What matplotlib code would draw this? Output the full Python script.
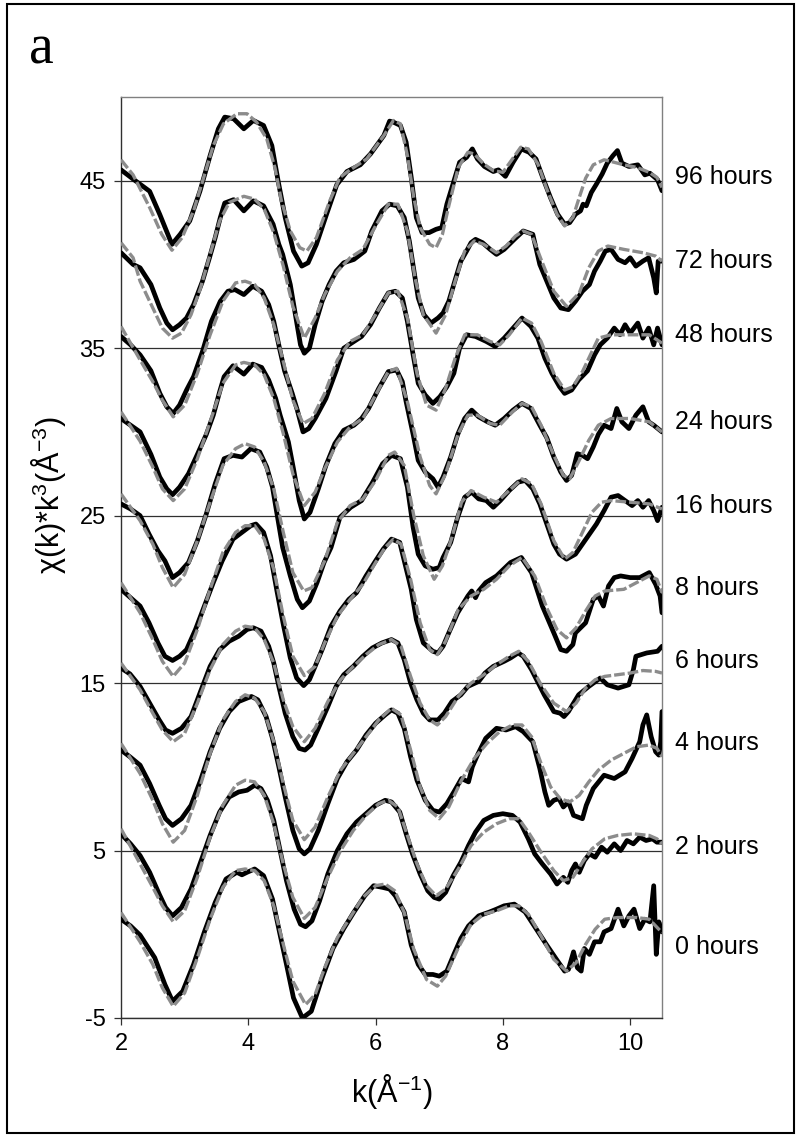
import numpy as np
import matplotlib
matplotlib.use("Agg")
import matplotlib.pyplot as plt
from matplotlib.patches import Rectangle

plt.rcParams['font.family'] = ['Liberation Sans', 'DejaVu Sans']
plt.rcParams['mathtext.default'] = 'regular'

# ---------------- data (k, chi*k^3 with vertical offsets as plotted) ----------------
labels = ["96 hours", "72 hours", "48 hours", "24 hours", "16 hours",
          "8 hours", "6 hours", "4 hours", "2 hours", "0 hours"]
label_y = [45.2, 40.2, 35.8, 30.6, 25.6, 20.7, 16.3, 11.4, 5.2, -0.75]

d96 = [(2.00, 45.65), (2.19, 45.1), (2.45, 44.37), (2.61, 42.98), (2.80, 41.2), (2.93, 41.8), (3.08, 42.6),
       (3.24, 44.37), (3.40, 46.5), (3.53, 48.1), (3.63, 48.8), (3.77, 48.7), (3.93, 48.1), (4.08, 48.6),
       (4.24, 48.3), (4.37, 47.1), (4.47, 44.96), (4.58, 42.8), (4.71, 40.8), (4.84, 39.9), (4.94, 40.1),
       (5.07, 41.2), (5.23, 43.0), (5.39, 44.76), (5.55, 45.55), (5.76, 45.95), (5.92, 46.6), (6.13, 47.7),
       (6.22, 48.56), (6.28, 48.5), (6.39, 48.3), (6.48, 47.3), (6.56, 45.2), (6.64, 42.8), (6.73, 41.9),
       (6.84, 41.9), (6.95, 42.1), (7.04, 42.2), (7.12, 43.6), (7.20, 44.6), (7.32, 46.1), (7.43, 46.4),
       (7.52, 46.9), (7.60, 46.3), (7.71, 45.85), (7.85, 45.55), (7.93, 45.65), (8.04, 45.26), (8.16, 46.1),
       (8.29, 46.9), (8.41, 46.7), (8.52, 46.3), (8.63, 45.15), (8.75, 43.97), (8.86, 43.0), (8.97, 42.4),
       (9.05, 42.5), (9.14, 43.0), (9.22, 43.2), (9.26, 43.6), (9.31, 43.5), (9.39, 44.3), (9.47, 44.8),
       (9.56, 45.4), (9.64, 46.05), (9.73, 46.5), (9.80, 46.8), (9.87, 46.05), (9.98, 45.85), (10.12, 45.95),
       (10.23, 45.35), (10.31, 45.45), (10.43, 45.06), (10.50, 44.4)]
f96 = [(2.00, 46.25), (2.19, 45.35), (2.45, 43.4), (2.64, 41.8), (2.80, 40.85), (2.96, 41.6), (3.14, 43.2),
       (3.30, 45.2), (3.45, 47.1), (3.61, 48.4), (3.82, 49.0), (3.98, 49.0), (4.13, 48.5), (4.29, 47.5),
       (4.42, 45.75), (4.52, 43.8), (4.66, 42.0), (4.81, 41.0), (4.92, 40.8), (5.07, 41.6), (5.28, 43.8),
       (5.44, 45.2), (5.60, 45.65), (5.86, 46.3), (6.13, 47.7), (6.28, 48.6), (6.39, 48.4), (6.50, 46.5),
       (6.60, 44.0), (6.70, 42.2), (6.85, 41.2), (6.95, 41.0), (7.05, 41.8), (7.15, 43.5), (7.30, 45.8),
       (7.45, 46.7), (7.55, 46.6), (7.70, 46.0), (7.85, 45.6), (8.00, 45.5), (8.15, 46.3), (8.28, 47.0),
       (8.40, 46.9), (8.55, 46.0), (8.70, 44.4), (8.85, 43.0), (8.97, 42.3), (9.10, 42.8), (9.20, 44.0),
       (9.30, 45.15), (9.42, 45.95), (9.59, 46.25), (9.75, 46.1), (9.90, 45.95), (10.10, 45.8), (10.30, 45.5),
       (10.42, 45.2), (10.50, 44.6)]

d72 = [(2.00, 40.7), (2.19, 40.0), (2.30, 39.8), (2.47, 38.8), (2.61, 37.4), (2.72, 36.5), (2.81, 36.1),
       (2.92, 36.4), (3.03, 36.8), (3.14, 37.6), (3.28, 39.0), (3.39, 40.4), (3.48, 41.6), (3.56, 42.8),
       (3.63, 43.67), (3.77, 43.87), (3.93, 43.2), (4.08, 43.8), (4.24, 43.5), (4.39, 42.4), (4.48, 41.2),
       (4.54, 40.6), (4.66, 38.8), (4.74, 37.0), (4.82, 35.2), (4.88, 34.7), (4.96, 35.0), (5.05, 36.4),
       (5.16, 37.8), (5.27, 38.8), (5.38, 39.6), (5.50, 40.1), (5.66, 40.3), (5.83, 40.8), (5.94, 42.0),
       (6.10, 43.2), (6.22, 43.6), (6.34, 43.5), (6.45, 42.8), (6.53, 41.4), (6.62, 39.2), (6.67, 38.0),
       (6.76, 37.0), (6.87, 36.5), (6.98, 36.8), (7.06, 37.1), (7.15, 37.8), (7.26, 39.2), (7.34, 40.2),
       (7.43, 40.8), (7.50, 41.3), (7.57, 41.5), (7.68, 41.3), (7.80, 40.9), (7.90, 40.6), (8.02, 40.9),
       (8.18, 41.5), (8.32, 42.0), (8.47, 41.8), (8.58, 40.0), (8.69, 39.0), (8.80, 38.0), (8.91, 37.4),
       (9.03, 37.3), (9.14, 37.8), (9.25, 38.4), (9.36, 38.8), (9.44, 39.6), (9.53, 40.2), (9.61, 40.8),
       (9.70, 40.9), (9.81, 40.3), (9.92, 40.1), (10.00, 40.4), (10.09, 39.9), (10.20, 40.2), (10.29, 40.4),
       (10.37, 39.2), (10.41, 38.3), (10.44, 40.2), (10.50, 40.2)]
f72 = [(2.00, 41.3), (2.19, 40.4), (2.30, 39.0), (2.50, 37.4), (2.65, 36.2), (2.81, 35.6), (2.95, 35.9),
       (3.10, 37.0), (3.25, 38.6), (3.40, 40.6), (3.55, 42.6), (3.70, 43.7), (3.93, 44.07), (4.10, 43.9),
       (4.25, 43.3), (4.40, 41.9), (4.55, 39.9), (4.70, 37.5), (4.88, 35.6), (5.05, 36.8), (5.20, 38.2),
       (5.40, 39.6), (5.60, 40.4), (5.80, 40.9), (6.00, 42.3), (6.20, 43.6), (6.35, 43.6), (6.50, 42.0),
       (6.62, 39.2), (6.75, 37.0), (6.95, 35.9), (7.10, 37.0), (7.25, 39.0), (7.40, 40.8), (7.55, 41.4),
       (7.70, 41.2), (7.90, 40.7), (8.05, 41.1), (8.20, 41.7), (8.32, 42.0), (8.45, 41.8), (8.60, 40.3),
       (8.80, 38.4), (9.00, 37.5), (9.20, 38.3), (9.35, 39.8), (9.50, 40.8), (9.65, 41.1), (9.90, 40.9),
       (10.20, 40.7), (10.40, 40.5), (10.50, 40.2)]

d48 = [(2.00, 35.7), (2.15, 35.2), (2.30, 34.6), (2.47, 33.65), (2.61, 32.3), (2.72, 31.5), (2.82, 31.1),
       (2.92, 31.6), (3.03, 32.5), (3.14, 33.3), (3.28, 34.8), (3.42, 36.6), (3.56, 37.8), (3.68, 38.4),
       (3.79, 38.5), (3.93, 38.2), (4.07, 38.7), (4.21, 38.4), (4.32, 37.6), (4.40, 36.6), (4.49, 35.0),
       (4.57, 33.65), (4.69, 32.3), (4.77, 31.3), (4.86, 30.0), (4.95, 30.2), (5.05, 30.8), (5.22, 32.0),
       (5.38, 33.65), (5.50, 35.0), (5.66, 35.4), (5.78, 35.7), (5.92, 36.4), (6.06, 37.4), (6.20, 38.3),
       (6.31, 38.4), (6.42, 38.0), (6.50, 36.6), (6.59, 34.6), (6.67, 32.9), (6.78, 32.2), (6.90, 31.7),
       (7.01, 32.1), (7.12, 32.7), (7.23, 33.5), (7.32, 35.0), (7.43, 35.8), (7.57, 35.7), (7.74, 35.4),
       (7.88, 35.1), (8.02, 35.6), (8.16, 36.2), (8.30, 36.8), (8.44, 36.3), (8.55, 35.6), (8.66, 34.4),
       (8.77, 33.5), (8.89, 32.7), (8.97, 32.3), (9.08, 32.5), (9.19, 33.1), (9.33, 33.65), (9.44, 34.6),
       (9.53, 35.2), (9.64, 35.6), (9.75, 36.2), (9.84, 35.8), (9.92, 36.4), (10.00, 35.9), (10.12, 36.5),
       (10.20, 35.6), (10.29, 36.2), (10.37, 35.2), (10.43, 36.2), (10.50, 35.2)]
f48 = [(2.00, 36.3), (2.30, 34.3), (2.50, 33.0), (2.65, 31.9), (2.82, 30.9), (3.00, 31.6), (3.20, 33.5),
       (3.40, 35.8), (3.60, 37.8), (3.80, 38.9), (3.95, 39.0), (4.10, 38.8), (4.25, 38.0), (4.40, 36.4),
       (4.55, 34.2), (4.70, 31.9), (4.86, 30.5), (5.00, 30.8), (5.20, 32.3), (5.40, 34.3), (5.60, 35.4),
       (5.80, 35.8), (6.00, 37.0), (6.20, 38.3), (6.35, 38.4), (6.50, 36.8), (6.65, 33.5), (6.80, 31.6),
       (6.95, 31.3), (7.10, 32.6), (7.25, 34.4), (7.40, 35.8), (7.60, 35.8), (7.80, 35.4), (7.95, 35.2),
       (8.10, 35.8), (8.30, 36.8), (8.45, 36.5), (8.60, 35.4), (8.80, 33.5), (8.97, 32.5), (9.10, 32.7),
       (9.25, 33.6), (9.40, 34.8), (9.50, 35.6), (9.70, 35.8), (10.00, 35.8), (10.30, 35.8), (10.50, 35.3)]

d24 = [(2.00, 30.8), (2.15, 30.4), (2.30, 30.0), (2.47, 28.66), (2.61, 27.3), (2.72, 26.6), (2.81, 26.25),
       (2.92, 26.7), (3.06, 27.5), (3.20, 28.66), (3.34, 29.85), (3.45, 31.0), (3.55, 32.4), (3.62, 33.3),
       (3.76, 33.95), (3.93, 33.45), (4.07, 34.05), (4.21, 33.85), (4.32, 33.1), (4.43, 32.0), (4.50, 31.0),
       (4.63, 29.4), (4.71, 27.8), (4.80, 25.9), (4.88, 24.8), (4.97, 25.2), (5.10, 26.6), (5.22, 28.0),
       (5.36, 29.3), (5.50, 30.1), (5.66, 30.4), (5.78, 30.8), (5.89, 31.4), (6.05, 32.6), (6.20, 33.6),
       (6.33, 33.7), (6.42, 33.0), (6.48, 31.8), (6.59, 29.85), (6.67, 28.3), (6.78, 27.6), (6.90, 27.2),
       (6.98, 26.7), (7.06, 27.3), (7.18, 28.5), (7.29, 29.85), (7.40, 30.8), (7.51, 31.3), (7.62, 30.9),
       (7.76, 30.6), (7.88, 30.4), (8.02, 30.8), (8.16, 31.3), (8.30, 31.7), (8.44, 31.4), (8.58, 30.4),
       (8.69, 29.65), (8.80, 28.5), (8.91, 27.6), (9.00, 27.1), (9.08, 27.4), (9.17, 28.7), (9.25, 28.6),
       (9.33, 28.4), (9.42, 29.1), (9.50, 29.85), (9.59, 30.4), (9.70, 30.2), (9.79, 31.4), (9.87, 30.6),
       (9.98, 30.2), (10.09, 31.0), (10.20, 31.5), (10.29, 30.6), (10.37, 30.4), (10.50, 30.0)]
f24 = [(2.00, 31.2), (2.30, 29.45), (2.50, 27.9), (2.65, 26.6), (2.82, 25.9), (3.00, 26.6), (3.20, 28.4),
       (3.40, 30.6), (3.60, 32.9), (3.80, 34.0), (3.93, 34.15), (4.10, 34.0), (4.25, 33.4), (4.40, 32.0),
       (4.55, 29.9), (4.70, 27.5), (4.88, 25.6), (5.05, 26.4), (5.20, 27.8), (5.40, 29.4), (5.60, 30.3),
       (5.80, 30.8), (6.00, 32.2), (6.20, 33.6), (6.33, 33.8), (6.50, 31.8), (6.70, 28.5), (6.85, 26.8),
       (6.95, 26.3), (7.10, 27.5), (7.30, 29.9), (7.45, 31.0), (7.60, 31.0), (7.80, 30.5), (7.95, 30.4),
       (8.15, 31.2), (8.30, 31.7), (8.45, 31.5), (8.60, 30.4), (8.80, 28.6), (8.95, 27.4), (9.05, 27.2),
       (9.20, 28.3), (9.35, 29.5), (9.50, 30.4), (9.70, 30.8), (10.00, 30.8), (10.30, 30.6), (10.50, 30.0)]

d16 = [(2.00, 25.7), (2.15, 25.4), (2.30, 25.0), (2.44, 23.9), (2.58, 22.9), (2.69, 22.3), (2.81, 21.3),
       (2.92, 21.6), (3.06, 22.2), (3.20, 23.5), (3.34, 25.1), (3.48, 26.9), (3.62, 28.4), (3.76, 28.6),
       (3.90, 28.5), (4.04, 29.0), (4.18, 28.8), (4.29, 27.9), (4.38, 26.7), (4.46, 24.9), (4.54, 23.1),
       (4.66, 21.4), (4.77, 20.0), (4.85, 19.5), (4.96, 19.9), (5.08, 21.0), (5.19, 22.2), (5.30, 23.1),
       (5.44, 24.9), (5.61, 25.5), (5.78, 25.9), (5.94, 26.9), (6.11, 28.1), (6.25, 28.6), (6.39, 28.4),
       (6.50, 26.7), (6.59, 24.3), (6.67, 22.7), (6.78, 22.0), (6.90, 21.8), (7.00, 21.9), (7.06, 22.5),
       (7.18, 23.4), (7.29, 24.9), (7.40, 26.1), (7.51, 26.4), (7.62, 26.0), (7.74, 25.9), (7.85, 25.5),
       (7.96, 25.9), (8.10, 26.5), (8.24, 27.0), (8.35, 27.1), (8.47, 26.6), (8.58, 25.7), (8.69, 24.5),
       (8.80, 23.3), (8.89, 22.7), (9.00, 22.4), (9.14, 22.7), (9.25, 23.3), (9.36, 23.9), (9.47, 24.5),
       (9.59, 25.3), (9.70, 26.1), (9.81, 26.2), (9.92, 25.9), (10.03, 25.6), (10.12, 25.9), (10.20, 25.5),
       (10.29, 25.9), (10.37, 25.3), (10.43, 24.7), (10.50, 25.5)]
f16 = [(2.00, 26.3), (2.30, 24.7), (2.50, 23.3), (2.65, 21.9), (2.82, 20.7), (3.00, 21.5), (3.20, 23.5),
       (3.40, 25.8), (3.60, 28.0), (3.80, 29.0), (3.95, 29.3), (4.10, 29.1), (4.25, 28.2), (4.40, 26.6),
       (4.55, 24.0), (4.70, 21.6), (4.87, 20.5), (5.00, 20.7), (5.20, 22.3), (5.40, 24.6), (5.60, 25.6),
       (5.80, 26.0), (6.00, 27.1), (6.20, 28.6), (6.30, 28.8), (6.45, 28.0), (6.60, 25.0), (6.75, 22.6),
       (6.92, 21.2), (7.05, 22.0), (7.20, 23.7), (7.35, 25.8), (7.50, 26.5), (7.70, 26.1), (7.90, 25.8),
       (8.10, 26.5), (8.30, 27.2), (8.45, 26.9), (8.60, 25.7), (8.80, 23.5), (8.97, 22.4), (9.10, 22.8),
       (9.25, 24.0), (9.40, 25.2), (9.55, 25.8), (9.70, 25.9), (10.00, 25.8), (10.30, 25.7), (10.50, 25.4)]

d8 = [(2.00, 20.6), (2.15, 20.1), (2.30, 19.6), (2.44, 18.6), (2.58, 17.4), (2.69, 16.6), (2.81, 16.35),
      (2.92, 16.6), (3.03, 17.0), (3.17, 18.2), (3.31, 19.6), (3.45, 21.0), (3.59, 22.3), (3.76, 23.6),
      (3.90, 24.0), (4.04, 24.4), (4.12, 24.5), (4.24, 24.0), (4.35, 22.6), (4.45, 20.5), (4.55, 18.5),
      (4.66, 16.5), (4.76, 15.3), (4.87, 14.85), (4.96, 15.2), (5.05, 16.0), (5.16, 17.0), (5.30, 18.4),
      (5.44, 19.3), (5.58, 20.0), (5.70, 20.4), (5.85, 21.4), (6.00, 22.3), (6.12, 23.0), (6.25, 23.6),
      (6.38, 23.4), (6.47, 22.0), (6.56, 20.6), (6.64, 18.8), (6.75, 17.4), (6.90, 16.9), (6.98, 16.8),
      (7.06, 17.2), (7.15, 18.0), (7.29, 19.2), (7.45, 20.2), (7.51, 20.5), (7.57, 20.1), (7.62, 20.5),
      (7.73, 21.0), (7.90, 21.4), (8.12, 22.2), (8.29, 22.5), (8.45, 21.6), (8.62, 19.6), (8.80, 18.0),
      (8.91, 17.0), (9.00, 16.9), (9.10, 17.3), (9.14, 18.0), (9.30, 18.6), (9.42, 20.0), (9.50, 20.2),
      (9.58, 19.6), (9.66, 20.8), (9.75, 21.3), (9.85, 21.4), (10.00, 21.3), (10.15, 21.3), (10.30, 21.6),
      (10.40, 20.9), (10.47, 20.2), (10.50, 19.2)]
f8 = [(2.00, 21.0), (2.30, 19.2), (2.50, 17.6), (2.65, 16.3), (2.82, 15.4), (3.00, 16.2), (3.20, 18.2),
      (3.40, 20.6), (3.60, 22.8), (3.80, 24.0), (3.95, 24.4), (4.10, 24.4), (4.25, 23.6), (4.40, 21.8),
      (4.55, 19.0), (4.70, 16.6), (4.88, 15.45), (5.05, 16.0), (5.20, 17.4), (5.40, 19.0), (5.60, 20.0),
      (5.80, 20.9), (6.00, 22.2), (6.15, 23.1), (6.28, 23.6), (6.40, 23.3), (6.55, 21.2), (6.70, 18.6),
      (6.85, 17.0), (6.97, 16.7), (7.10, 17.5), (7.30, 19.4), (7.50, 20.2), (7.70, 20.6), (7.90, 21.2),
      (8.10, 22.0), (8.30, 22.5), (8.50, 21.4), (8.70, 19.4), (8.85, 18.2), (9.00, 17.7), (9.15, 18.3),
      (9.30, 19.3), (9.45, 20.2), (9.60, 20.5), (9.90, 20.6), (10.10, 21.0), (10.30, 21.4), (10.42, 21.2),
      (10.50, 20.4)]

d6 = [(2.00, 15.9), (2.14, 15.55), (2.30, 14.8), (2.45, 13.8), (2.60, 12.8), (2.70, 12.2), (2.81, 12.0),
      (2.95, 12.3), (3.10, 13.0), (3.25, 14.5), (3.40, 16.0), (3.55, 17.0), (3.70, 17.5), (3.85, 17.8),
      (3.98, 18.2), (4.08, 18.3), (4.20, 18.1), (4.32, 17.2), (4.40, 16.2), (4.48, 14.8), (4.58, 13.2),
      (4.70, 11.8), (4.80, 11.1), (4.89, 11.0), (4.98, 11.3), (5.10, 12.3), (5.25, 13.6), (5.38, 14.8),
      (5.50, 15.5), (5.65, 16.0), (5.80, 16.6), (5.95, 17.1), (6.10, 17.4), (6.25, 17.6), (6.35, 17.4),
      (6.45, 16.4), (6.55, 15.0), (6.65, 14.0), (6.75, 13.2), (6.85, 12.8), (6.98, 12.8), (7.08, 13.2),
      (7.20, 13.9), (7.34, 14.3), (7.45, 14.8), (7.62, 15.1), (7.72, 15.6), (7.85, 16.0), (8.02, 16.3),
      (8.12, 16.5), (8.24, 16.8), (8.32, 16.6), (8.45, 15.8), (8.65, 14.3), (8.80, 13.3), (8.90, 13.2),
      (8.96, 13.0), (9.03, 13.3), (9.19, 14.3), (9.35, 14.8), (9.53, 15.3), (9.64, 14.9), (9.81, 14.7),
      (9.98, 14.9), (10.05, 15.8), (10.09, 16.6), (10.26, 16.8), (10.43, 16.9), (10.50, 17.2)]
f6 = [(2.00, 16.2), (2.30, 14.6), (2.50, 13.2), (2.65, 12.2), (2.82, 11.5), (3.00, 12.0), (3.20, 13.8),
      (3.40, 15.8), (3.60, 17.3), (3.80, 18.1), (3.95, 18.4), (4.10, 18.3), (4.25, 17.6), (4.40, 16.2),
      (4.55, 14.0), (4.70, 12.4), (4.88, 11.5), (5.05, 12.3), (5.25, 13.9), (5.45, 15.2), (5.65, 16.0),
      (5.85, 16.7), (6.05, 17.3), (6.25, 17.6), (6.40, 17.2), (6.55, 15.4), (6.70, 13.8), (6.85, 12.8),
      (6.97, 12.5), (7.10, 13.0), (7.30, 14.2), (7.50, 15.0), (7.70, 15.5), (7.90, 16.1), (8.10, 16.6),
      (8.25, 16.9), (8.40, 16.3), (8.60, 14.9), (8.80, 13.8), (9.00, 13.3), (9.15, 13.8), (9.30, 14.7),
      (9.45, 15.2), (9.60, 15.4), (9.80, 15.5), (10.00, 15.6), (10.20, 15.75), (10.40, 15.7), (10.50, 15.6)]

d4 = [(2.00, 11.0), (2.14, 10.6), (2.30, 10.1), (2.45, 9.0), (2.60, 7.7), (2.70, 6.9), (2.81, 6.5),
      (2.95, 6.9), (3.10, 7.7), (3.25, 9.2), (3.40, 10.9), (3.55, 12.3), (3.70, 13.3), (3.85, 13.9),
      (3.98, 14.1), (4.05, 14.2), (4.15, 14.0), (4.28, 13.0), (4.38, 11.7), (4.48, 10.0), (4.58, 8.2),
      (4.70, 6.2), (4.80, 5.1), (4.88, 4.8), (4.97, 5.1), (5.10, 6.2), (5.25, 7.8), (5.40, 9.3),
      (5.55, 10.3), (5.70, 11.0), (5.85, 11.9), (6.00, 12.6), (6.15, 13.1), (6.25, 13.4), (6.35, 13.2),
      (6.45, 12.3), (6.55, 10.6), (6.65, 9.2), (6.78, 8.0), (6.90, 7.4), (7.00, 7.3), (7.12, 7.8),
      (7.23, 8.5), (7.35, 9.3), (7.46, 9.1), (7.52, 10.0), (7.60, 10.7), (7.73, 11.7), (7.90, 12.3),
      (8.05, 12.2), (8.20, 12.4), (8.32, 12.1), (8.47, 11.5), (8.58, 9.9), (8.66, 8.5), (8.72, 7.7),
      (8.80, 8.0), (8.88, 8.1), (8.95, 7.6), (9.03, 7.9), (9.11, 7.1), (9.25, 6.9), (9.31, 7.7),
      (9.42, 8.7), (9.59, 9.5), (9.75, 9.3), (9.92, 9.7), (10.03, 10.5), (10.15, 11.5), (10.20, 12.5),
      (10.26, 13.1), (10.33, 11.8), (10.40, 10.9), (10.45, 10.7), (10.48, 11.5), (10.50, 13.3)]
f4 = [(2.00, 11.4), (2.30, 9.6), (2.50, 8.0), (2.65, 6.6), (2.82, 5.5), (3.00, 6.2), (3.20, 8.3),
      (3.40, 10.8), (3.60, 12.8), (3.80, 13.9), (3.95, 14.3), (4.10, 14.1), (4.25, 13.3), (4.40, 11.5),
      (4.55, 9.0), (4.70, 6.8), (4.88, 5.65), (5.05, 6.4), (5.25, 8.2), (5.45, 9.8), (5.65, 10.8),
      (5.85, 11.8), (6.05, 12.8), (6.25, 13.5), (6.40, 13.1), (6.55, 11.0), (6.70, 8.8), (6.85, 7.4),
      (7.00, 6.9), (7.15, 7.6), (7.35, 9.2), (7.55, 10.5), (7.75, 11.4), (7.95, 12.1), (8.15, 12.5),
      (8.30, 12.5), (8.45, 11.8), (8.60, 10.2), (8.75, 8.8), (8.90, 8.1), (9.05, 7.9), (9.20, 8.3),
      (9.35, 9.1), (9.50, 9.8), (9.70, 10.4), (9.90, 10.8), (10.10, 11.2), (10.30, 11.3), (10.42, 11.1),
      (10.50, 10.6)]

d2 = [(2.00, 6.0), (2.15, 5.4), (2.30, 4.7), (2.45, 3.7), (2.60, 2.4), (2.70, 1.6), (2.81, 1.1),
      (2.95, 1.6), (3.10, 2.7), (3.25, 4.3), (3.40, 5.9), (3.55, 7.3), (3.70, 8.2), (3.85, 8.5),
      (3.98, 8.6), (4.10, 8.9), (4.20, 8.7), (4.30, 8.0), (4.40, 6.8), (4.50, 5.0), (4.60, 3.2),
      (4.72, 1.5), (4.82, 0.6), (4.90, 0.45), (5.00, 0.8), (5.12, 2.0), (5.25, 3.6), (5.40, 5.0),
      (5.55, 6.0), (5.70, 6.7), (5.85, 7.2), (6.00, 7.7), (6.15, 8.0), (6.25, 7.9), (6.38, 7.3),
      (6.48, 6.0), (6.58, 4.8), (6.70, 3.6), (6.82, 2.6), (6.92, 2.2), (7.00, 2.1), (7.10, 2.5),
      (7.22, 3.5), (7.34, 4.3), (7.46, 5.3), (7.57, 6.1), (7.70, 6.8), (7.85, 7.1), (8.00, 7.2),
      (8.15, 7.1), (8.27, 6.7), (8.40, 5.7), (8.50, 4.8), (8.62, 4.2), (8.75, 3.6), (8.85, 3.0),
      (8.95, 3.4), (9.02, 3.1), (9.08, 3.8), (9.14, 4.2), (9.20, 3.7), (9.28, 4.4), (9.36, 4.8),
      (9.45, 4.6), (9.55, 5.2), (9.64, 4.9), (9.75, 5.4), (9.85, 5.0), (9.95, 5.6), (10.05, 5.4),
      (10.15, 5.8), (10.25, 5.6), (10.35, 5.7), (10.42, 5.5), (10.50, 5.5)]
f2 = [(2.00, 6.3), (2.30, 4.2), (2.50, 2.8), (2.65, 1.7), (2.82, 0.75), (3.00, 1.4), (3.20, 3.4),
      (3.40, 5.8), (3.60, 7.7), (3.80, 8.9), (3.95, 9.2), (4.10, 9.1), (4.25, 8.3), (4.40, 6.6),
      (4.55, 4.2), (4.70, 2.2), (4.88, 0.95), (5.05, 1.6), (5.25, 3.4), (5.45, 5.0), (5.65, 6.2),
      (5.85, 7.1), (6.05, 7.8), (6.20, 8.0), (6.35, 7.6), (6.50, 5.9), (6.65, 4.2), (6.80, 2.9),
      (6.95, 2.3), (7.10, 2.7), (7.30, 3.9), (7.50, 5.3), (7.70, 6.1), (7.90, 6.6), (8.10, 6.9),
      (8.25, 6.9), (8.40, 6.1), (8.60, 4.9), (8.80, 3.8), (8.95, 3.2), (9.10, 3.4), (9.25, 4.3),
      (9.40, 5.1), (9.60, 5.7), (9.80, 5.9), (10.05, 6.0), (10.30, 5.9), (10.42, 5.7), (10.50, 5.4)]

d0 = [(2.00, 0.9), (2.15, 0.5), (2.30, -0.05), (2.53, -1.4), (2.69, -3.0), (2.81, -4.0), (2.97, -3.4),
      (3.14, -1.8), (3.31, 0.14), (3.48, 1.9), (3.65, 3.3), (3.82, 3.7), (3.90, 3.55), (3.98, 3.7),
      (4.10, 3.9), (4.24, 3.5), (4.38, 2.1), (4.49, 0.14), (4.60, -1.8), (4.71, -3.8), (4.85, -5.0),
      (4.99, -4.6), (5.16, -2.6), (5.33, -0.85), (5.50, 0.34), (5.66, 1.33), (5.83, 2.3), (5.97, 2.9),
      (6.11, 2.8), (6.22, 2.7), (6.31, 2.3), (6.45, 1.33), (6.56, -0.65), (6.67, -1.8), (6.78, -2.4),
      (6.90, -2.4), (7.00, -2.5), (7.12, -2.2), (7.23, -1.2), (7.34, -0.25), (7.46, 0.5), (7.62, 1.1),
      (7.79, 1.33), (7.90, 1.5), (8.02, 1.7), (8.18, 1.8), (8.35, 1.33), (8.52, 0.34), (8.69, -0.65),
      (8.86, -1.6), (8.97, -2.2), (9.03, -2.1), (9.11, -1.05), (9.17, -2.0), (9.23, -2.2), (9.28, -0.85),
      (9.36, -1.2), (9.44, -0.45), (9.53, -0.45), (9.59, 0.14), (9.70, 0.34), (9.81, 1.5), (9.90, 0.5),
      (9.98, 1.1), (10.06, 1.5), (10.15, 0.34), (10.23, 0.9), (10.31, 0.74), (10.37, 2.9), (10.41, -1.2),
      (10.45, 0.74), (10.50, 0.14)]
f0 = [(2.00, 1.3), (2.30, -0.45), (2.50, -1.8), (2.65, -3.2), (2.82, -4.3), (3.00, -3.5), (3.20, -1.4),
      (3.40, 0.9), (3.60, 2.8), (3.80, 3.8), (3.95, 3.9), (4.10, 3.8), (4.25, 3.2), (4.40, 1.7),
      (4.55, -0.6), (4.70, -2.8), (4.90, -4.2), (5.05, -3.6), (5.20, -2.0), (5.40, -0.2), (5.60, 1.0),
      (5.80, 2.2), (6.00, 2.9), (6.15, 3.0), (6.30, 2.6), (6.45, 1.3), (6.60, -0.9), (6.80, -2.7),
      (6.97, -3.1), (7.10, -2.5), (7.30, -0.8), (7.50, 0.6), (7.70, 1.2), (7.90, 1.4), (8.10, 1.7),
      (8.25, 1.7), (8.40, 1.2), (8.60, -0.1), (8.80, -1.5), (9.00, -2.2), (9.15, -1.7), (9.30, -0.6),
      (9.45, 0.3), (9.60, 0.9), (9.80, 1.0), (10.10, 1.0), (10.30, 0.9), (10.50, 0.1)]

data_curves = [d96, d72, d48, d24, d16, d8, d6, d4, d2, d0]
fit_curves = [f96, f72, f48, f24, f16, f8, f6, f4, f2, f0]

x_ticks = [2, 4, 6, 8, 10]
y_ticks = [-5, 5, 15, 25, 35, 45]

# ---------------- figure ----------------
W, H = 801, 1137
fig = plt.figure(figsize=(W / 100, H / 100), dpi=100)
L, R, T, B = 121, 662, 97, 1018
ax = fig.add_axes([L / W, 1 - B / H, (R - L) / W, (B - T) / H])
ax.set_xlim(2, 10.5)
ax.set_ylim(-5, 50)

ax.set_yticks(y_ticks)
ax.set_xticks(x_ticks)
ax.set_yticklabels([str(v) for v in y_ticks])
ax.yaxis.grid(True, color='#303030', lw=0.9)
ax.set_axisbelow(True)
ax.tick_params(axis='both', direction='out', length=5, width=0.9, color='#303030',
               labelsize=17, pad=6)
for side in ['top', 'right']:
    ax.spines[side].set_color('#808080')
    ax.spines[side].set_linewidth(1.0)
for side in ['left', 'bottom']:
    ax.spines[side].set_color('#303030')
    ax.spines[side].set_linewidth(1.0)

for d, f in zip(data_curves, fit_curves):
    dk, dv = np.array(d).T
    fk, fv = np.array(f).T
    ax.plot(dk, dv, color='black', lw=3.4, solid_joinstyle='round', solid_capstyle='round', zorder=3)
    ax.plot(fk, fv, color='#8c8c8c', lw=2.4, linestyle=(0, (3.2, 0.9)), dash_capstyle='butt', zorder=4)

for lab, yv in zip(labels, label_y):
    ax.text(10.70, yv, lab, fontsize=18, va='center', ha='left', clip_on=False)

ax.set_xlabel('k(Å$^{-1}$)', fontsize=22, labelpad=12)
fig.text(48 / W, 1 - 495 / H, 'χ(k)*k$^{3}$(Å$^{-3}$)', rotation=90, fontsize=22,
         ha='center', va='center')

fig.text(29 / W, 1 - 63 / H, 'a', family=['Liberation Serif', 'DejaVu Serif'], fontsize=40,
         ha='left', va='baseline')

fig.patches.append(Rectangle((7 / W, 4 / H), (794 - 7) / W, (1133 - 4) / H, transform=fig.transFigure,
                             fill=False, edgecolor='black', lw=1.5))

fig.savefig('out.png', dpi=100)
